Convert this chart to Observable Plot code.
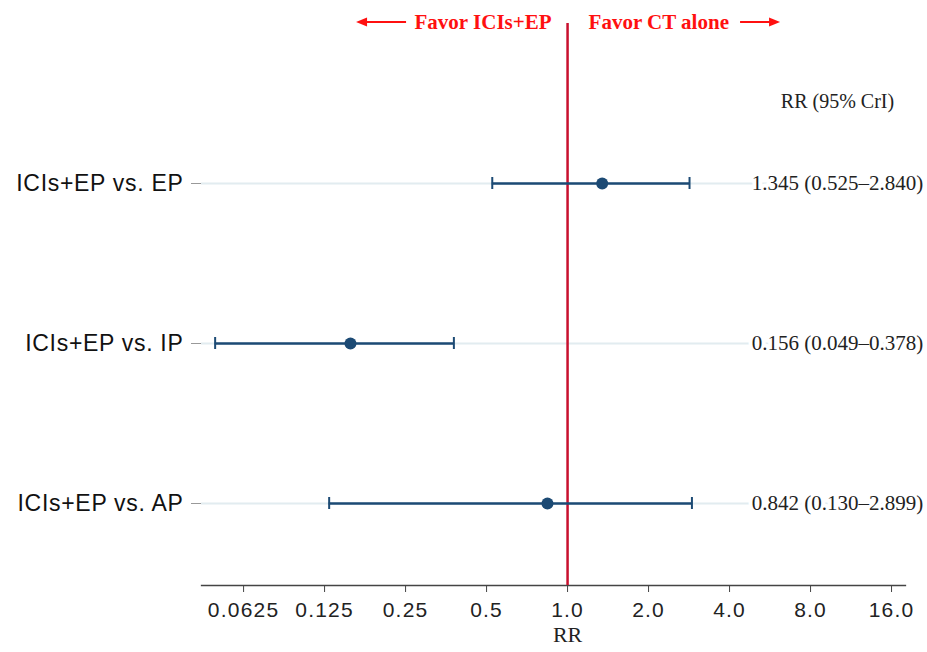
<!DOCTYPE html>
<html><head><meta charset="utf-8">
<script src="https://cdn.jsdelivr.net/npm/d3@7"></script>
<script src="https://cdn.jsdelivr.net/npm/@observablehq/plot@0.6"></script>
<style>
html,body{margin:0;padding:0;background:#fff}
#chart svg{display:block}
#chart g[aria-label="y-axis tick label"] text{letter-spacing:0.7px}
#chart g[aria-label="x-axis tick label"] text{letter-spacing:1.2px}
</style>
</head><body><div id="chart"></div>
<script>
const comparisons = ["ICIs+EP vs. EP", "ICIs+EP vs. IP", "ICIs+EP vs. AP"];
const rr = [1.345, 0.156, 0.842];
const lower = [0.525, 0.049, 0.130];
const upper = [2.840, 0.378, 2.899];
const rrLabels = ["1.345 (0.525\u20132.840)", "0.156 (0.049\u20130.378)", "0.842 (0.130\u20132.899)"];
const tickValues = [0.0625, 0.125, 0.25, 0.5, 1, 2, 4, 8, 16];
const tickLabels = ["0.0625", "0.125", "0.25", "0.5", "1.0", "2.0", "4.0", "8.0", "16.0"];
const favorLabels = ["Favor ICIs+EP", "Favor CT alone"];
const columnHeader = ["RR (95% CrI)"];
const axisTitle = ["RR"];
const nullValue = [1];

const rows = comparisons.map((c, i) => ({comparison: c, rr: rr[i], lo: lower[i], hi: upper[i], label: rrLabels[i]}));

const serif = "'Liberation Serif', 'Times New Roman', serif";
const sans = "'Liberation Sans', Arial, sans-serif";
const blue = "#1c4a74";
const red = "#ff1010";

const arrows = (index, scales) => {
  const x0 = scales.x(1);
  const y = 22;
  const g = d3.create("svg:g").attr("stroke", red).attr("fill", red);
  g.append("line").attr("x1", x0 - 161).attr("x2", x0 - 204).attr("y1", y).attr("y2", y).attr("stroke-width", 2);
  g.append("path").attr("d", `M${x0 - 211},${y} L${x0 - 200},${y - 4.5} L${x0 - 200},${y + 4.5} Z`).attr("stroke", "none");
  g.append("line").attr("x1", x0 + 173).attr("x2", x0 + 206).attr("y1", y).attr("y2", y).attr("stroke-width", 2);
  g.append("path").attr("d", `M${x0 + 213},${y} L${x0 + 202},${y - 4.5} L${x0 + 202},${y + 4.5} Z`).attr("stroke", "none");
  return g.node();
};

const chart = Plot.plot({
  width: 927,
  height: 652,
  marginLeft: 201,
  marginRight: 22,
  marginTop: 23,
  marginBottom: 67,
  x: {type: "log", base: 2, domain: [0.0436, 18.03]},
  y: {type: "point", domain: comparisons, range: [183, 503], padding: 0},
  style: {fontFamily: sans, background: "#fff", color: "#111"},
  marks: [
    Plot.ruleY(rows, {y: "comparison", stroke: "#e2ecf0", strokeWidth: 2}),
    Plot.frame({anchor: "bottom", stroke: "#444", strokeWidth: 1.3}),
    Plot.axisX({ticks: tickValues, tickFormat: d => tickLabels[tickValues.indexOf(d)], tickSize: 7, tickPadding: 10, fontSize: 21, label: null, stroke: "#444", fill: "#222"}),
    Plot.axisY({tickSize: 10, tickPadding: 8, fontSize: 23, label: null, stroke: "#999", fill: "#111"}),
    Plot.ruleX(nullValue, {x: d => d, stroke: "#c8102e", strokeWidth: 2.5}),
    Plot.ruleY(rows, {y: "comparison", x1: "lo", x2: "hi", stroke: blue, strokeWidth: 2.5}),
    Plot.ruleX(rows, {x: "lo", y1: "comparison", y2: "comparison", stroke: blue, strokeWidth: 2, insetTop: -6, insetBottom: -6}),
    Plot.ruleX(rows, {x: "hi", y1: "comparison", y2: "comparison", stroke: blue, strokeWidth: 2, insetTop: -6, insetBottom: -6}),
    Plot.dot(rows, {x: "rr", y: "comparison", r: 6, fill: blue}),
    Plot.text(rows, {y: "comparison", text: "label", frameAnchor: "right", dx: -68, textAnchor: "middle", lineAnchor: "middle", fontFamily: serif, fontSize: 21, fill: "#222", stroke: "white", strokeWidth: 8}),
    Plot.text(columnHeader, {text: d => d, frameAnchor: "top-right", dx: -68, dy: 78, textAnchor: "middle", lineAnchor: "middle", fontFamily: serif, fontSize: 20, fill: "#222"}),
    Plot.text(nullValue, {x: d => d, text: () => favorLabels[0], frameAnchor: "top", dy: -1, dx: -16, textAnchor: "end", lineAnchor: "middle", fontFamily: serif, fontWeight: "bold", fontSize: 21, fill: red}),
    Plot.text(nullValue, {x: d => d, text: () => favorLabels[1], frameAnchor: "top", dy: -1, dx: 21, textAnchor: "start", lineAnchor: "middle", fontFamily: serif, fontWeight: "bold", fontSize: 21, fill: red}),
    Plot.text(nullValue, {x: d => d, text: () => axisTitle[0], frameAnchor: "bottom", dy: 49, lineAnchor: "middle", fontFamily: serif, fontSize: 22, fill: "#222"}),
    arrows
  ]
});
document.getElementById("chart").append(chart);
</script>
</body></html>
